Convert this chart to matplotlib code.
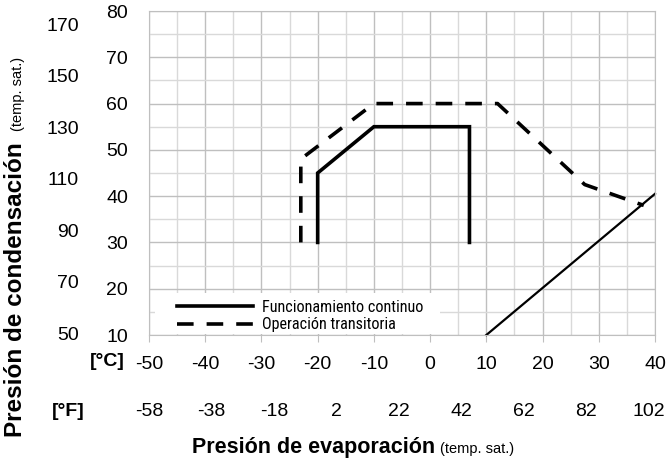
import numpy as np
import matplotlib
matplotlib.use("Agg")
import matplotlib.pyplot as plt
from matplotlib import font_manager
from matplotlib.patches import Rectangle
from matplotlib.transforms import blended_transform_factory

# =============================
# DATA (saturation temperatures, °C)
# =============================

cont_evap = [-20, -20, -10, 7, 7]
cont_cond = [30, 45, 55, 55, 30]

trans_evap = [-23, -23, -10, 12, 27.5, 38]
trans_cond = [30, 48, 60, 60, 42.5, 38]

limit_evap = [10, 40]
limit_cond = [10, 40.5]

x_ticks_c = np.arange(-50, 41, 10)
y_ticks_c = np.arange(10, 81, 10)
x_ticks_f = [-58, -38, -18, 2, 22, 42, 62, 82, 102]
y_ticks_f = [50, 70, 90, 110, 130, 150, 170]

labels = ["Funcionamiento continuo", "Operación transitoria"]

plt.rcParams['font.family'] = ['Liberation Sans', 'DejaVu Sans']
plt.rcParams['axes.unicode_minus'] = False

# narrow font for the legend, if one is installed
installed = {f.name for f in font_manager.fontManager.ttflist}
narrow = None
for name in ['Liberation Sans Narrow', 'Arial Narrow', 'Roboto Condensed',
             'DejaVu Sans Condensed', 'Open Sans Condensed']:
    if name in installed:
        narrow = name
        break
if narrow:
    leg_prop = {'family': [narrow, 'DejaVu Sans'], 'size': 11.6}
else:
    leg_prop = {'family': ['Liberation Sans', 'DejaVu Sans'], 'size': 10,
                'stretch': 'condensed'}

W, H = 670, 459
fig = plt.figure(figsize=(W / 100, H / 100), dpi=100)
ax = fig.add_axes([149 / W, 1 - 335 / H, (655 - 149) / W, (335 - 11) / H])

def px_to_axes(x, y):
    return (x - 149) / 506, (335 - y) / 324

ax.set_xlim(-50, 40)
ax.set_ylim(10, 80)
ax.set_xticks(x_ticks_c)
ax.set_yticks(y_ticks_c)
ax.set_xticks(np.arange(-45, 40, 10), minor=True)
ax.set_yticks(np.arange(15, 80, 10), minor=True)
ax.grid(which='major', color='#bfbfbf', lw=1.0)
ax.grid(which='minor', color='#d9d9d9', lw=1.0)
ax.set_axisbelow(True)
for s in ax.spines.values():
    s.set_color('#bfbfbf')
ax.tick_params(axis='x', which='major', length=5, color='#bfbfbf',
               labelsize=14, pad=10)
ax.tick_params(axis='x', which='minor', length=0)
ax.tick_params(axis='y', which='both', length=0, labelsize=14, pad=15)

ax.plot(cont_evap, cont_cond, color='black', lw=2.6,
        solid_joinstyle='miter', label=labels[0])
ax.plot(trans_evap, trans_cond, color='black', lw=2.6,
        dashes=(4.6, 3.6), label=labels[1])
ax.plot(limit_evap, limit_cond, color='black', lw=1.6, clip_on=False)

# white box behind the legend
bx0, by0 = px_to_axes(155, 334)
bx1, by1 = px_to_axes(440, 293)
ax.add_patch(Rectangle((bx0, by0), bx1 - bx0, by1 - by0,
                       transform=ax.transAxes, facecolor='white',
                       edgecolor='none', zorder=1.5))

lx, ly = px_to_axes(172, 337)
ax.legend(loc='lower left', bbox_to_anchor=(lx, ly), prop=leg_prop,
          handlelength=4.7, handletextpad=0.6, labelspacing=0.15,
          borderpad=0.3, borderaxespad=0, frameon=False)

# °F labels at their true positions
tx = blended_transform_factory(ax.transData, fig.transFigure)
for f in x_ticks_f:
    ax.text((f - 32) * 5 / 9, 1 - 411 / H, str(f), transform=tx,
            ha='center', va='center', fontsize=14)
ty = blended_transform_factory(fig.transFigure, ax.transData)
for f in y_ticks_f:
    ax.text(79 / W, (f - 32) * 5 / 9, str(f), transform=ty,
            ha='right', va='center', fontsize=14)

fig.text(125 / W, 1 - 362 / H, "[°C]", ha='right', va='center',
         fontsize=14, fontweight='bold')
fig.text(85 / W, 1 - 411 / H, "[°F]", ha='right', va='center',
         fontsize=14, fontweight='bold')

# axis titles: bold part + small "(temp. sat.)"
fig.text(435 / W, 1 - 453 / H, "Presión de evaporación", ha='right',
         va='baseline', fontsize=15.5, fontweight='bold')
fig.text(440 / W, 1 - 453 / H, "(temp. sat.)", ha='left',
         va='baseline', fontsize=10.5)
fig.text(22 / W, 1 - 437 / H, "Presión de condensación", rotation=90,
         rotation_mode='anchor', ha='left', va='baseline',
         fontsize=17.5, fontweight='bold')
fig.text(22 / W, 1 - 131 / H, "(temp. sat.)", rotation=90,
         rotation_mode='anchor', ha='left', va='baseline', fontsize=10.5)

fig.savefig("out.png", dpi=100)
